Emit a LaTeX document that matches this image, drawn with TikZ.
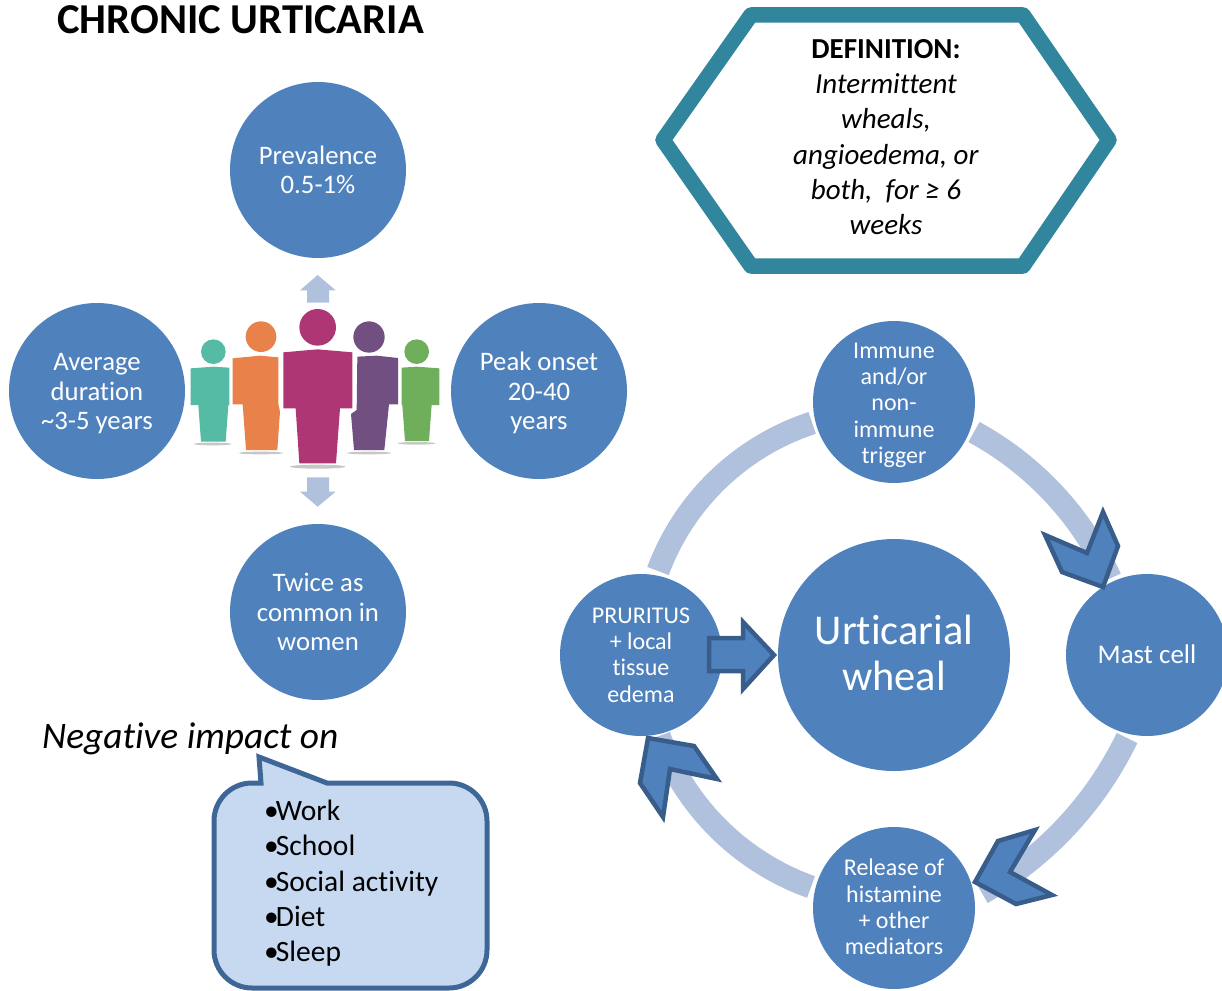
\documentclass[tikz,border=0pt]{standalone}
\usepackage{fontspec}
\setmainfont[Ligatures=CommonOff]{Carlito}
\definecolor{blueA}{HTML}{4F81BD}
\definecolor{blueE}{HTML}{385D8A}
\definecolor{lightA}{HTML}{B0C1DD}
\definecolor{tealH}{HTML}{31859C}
\definecolor{callF}{HTML}{C6D9F1}
\definecolor{callE}{HTML}{3E6696}
\definecolor{pTeal}{HTML}{56BBA5}
\definecolor{pOrange}{HTML}{E9824A}
\definecolor{pMag}{HTML}{AE3674}
\definecolor{pPur}{HTML}{714F80}
\definecolor{pGreen}{HTML}{6FAF5B}
\tikzset{
 bigc/.style={circle,fill=blueA,text=white,minimum size=176pt,inner sep=0pt,align=center,font=\fontsize{26.7}{29.5}\selectfont},
 smallc/.style={circle,fill=blueA,text=white,minimum size=162pt,inner sep=0pt,align=center,font=\fontsize{24}{26.3}\selectfont},
 ring/.style={lightA,line width=23pt},
 chev/.style={fill=blueA,draw=blueE,line width=4.5pt,miter limit=10},
 lightarrow/.style={fill=lightA,draw=none},
 shadowp/.style={fill=black!22,draw=none},
}
\newcommand{\blt}{•\kern-3pt}
\begin{document}
\begin{tikzpicture}[x=1pt,y=-1pt]
\useasboundingbox (0,0) rectangle (1222,990);
\node[anchor=west,font=\fontsize{42.6}{44}\bfseries\selectfont,inner sep=0pt] (title) at (57,20) {CHRONIC URTICARIA};

% definition hexagon
\draw[tealH,line width=15.5pt,line join=round,fill=white] (663,140) -- (751,15) -- (1023,15) -- (1109,140) -- (1023,266) -- (751,266) -- cycle;
\node[align=center,inner sep=0pt,font=\fontsize{29}{35.2}\selectfont] (def) at (886,137) {\textbf{DEFINITION:}\\\textit{Intermittent}\\\textit{wheals,}\\\textit{angioedema, or}\\\textit{both,\ \ for ≥ 6}\\\textit{weeks}};

% left circles
\node[bigc] (prev) at (318,170) {Prevalence\\0.5-1\%};
\node[bigc] (dur) at (97,391) {\rule{0pt}{22.5pt}Average\\duration\\\textasciitilde3-5 years};
\node[bigc] (peak) at (539,391) {\rule{0pt}{22.5pt}Peak onset\\20-40\\years};
\node[bigc] (women) at (318,612) {Twice as\\common in\\women};

% people
\begin{scope}[shift={(170,260)},x=0.33333pt,y=-0.33333pt]
\fill[lightarrow] (443,45) -- (497,91) -- (477,91) -- (477,128) -- (411,128) -- (411,91) -- (390,91) -- cycle;
\fill[lightarrow] (443,740) -- (497,695) -- (477,695) -- (477,652) -- (411,652) -- (411,695) -- (390,695) -- cycle;
\fill[shadowp] (128,552) ellipse[x radius=57,y radius=4];
\fill[shadowp] (273,579) ellipse[x radius=67,y radius=4];
\fill[shadowp] (443,620) ellipse[x radius=83,y radius=6];
\fill[shadowp] (597,579) ellipse[x radius=67,y radius=4];
\fill[shadowp] (740,550) ellipse[x radius=57,y radius=4];
\fill[pTeal] (130,275) circle[radius=37];
\fill[pTeal] (62,325) -- (130,320) -- (178,323) -- (178,435) -- (175,435) -- (167,545) -- (93,545) -- (85,435) -- (62,435) -- cycle;
\fill[pOrange] (273,230) circle[radius=46];
\fill[pOrange] (188,295) -- (270,287) -- (325,292) -- (325,432) -- (330,455) -- (322,570) -- (228,570) -- (218,433) -- (188,433) -- cycle;
\fill[pMag] (443,202) circle[radius=55];
\fill[pMag] (340,277) -- (443,268) -- (547,277) -- (547,445) -- (510,445) -- (498,610) -- (388,610) -- (377,445) -- (340,445) -- cycle;
\fill[pPur] (597,231) circle[radius=47];
\fill[pPur] (562,290) -- (620,287) -- (684,294) -- (684,433) -- (657,433) -- (643,570) -- (552,570) -- (543,462) -- (560,450) -- cycle;
\fill[pGreen] (740,275) circle[radius=37];
\fill[pGreen] (695,323) -- (740,320) -- (808,325) -- (808,435) -- (785,435) -- (777,543) -- (705,543) -- (697,435) -- (695,435) -- cycle;
\end{scope}

% ring segments
\draw[ring] (974,432) arc[start angle=61.4,end angle=24.5,radius=316pt];
\draw[ring] (1127,738) arc[start angle=-25.8,end angle=-60.4,radius=357pt];
\draw[ring] (811,887) arc[start angle=-109.7,end angle=-160,radius=252pt];
\draw[ring] (658,571) arc[start angle=159.6,end angle=108.1,radius=246pt];

% cycle
\node[circle,fill=blueA,text=white,minimum size=232pt,inner sep=0pt,align=center,font=\fontsize{42.4}{46}\selectfont] (wheal) at (894,655) {Urticarial\\wheal\rule[-4pt]{0pt}{1pt}};
\node[smallc] (immune) at (894,402) {\rule{0pt}{22pt}Immune\\and/or\\non-\\immune\\trigger};
\node[smallc,font=\fontsize{27}{30}\selectfont] (mast) at (1147,655) {Mast cell\rule[-2pt]{0pt}{1pt}};
\node[smallc] (release) at (894,908) {Release of\\histamine\\+ other\\mediators\rule[-2pt]{0pt}{1pt}};
\node[smallc] (prur) at (641,655) {PRURITUS\\+ local\\tissue\\edema};

\draw[chev] (1045,535) -- (1087,553) -- (1103,512) -- (1118,546) -- (1103,587) -- (1062,572) -- cycle;
\draw[chev] (1035,830) -- (1010,872) -- (1052,895) -- (1016,904) -- (975,882) -- (998,841) -- cycle;
\draw[chev] (648,738) -- (694,746) -- (717,779) -- (670,769) -- (663,817) -- (640,783) -- cycle;
\draw[chev] (709,638) -- (743,638) -- (743,622) -- (774,655) -- (743,689) -- (743,671) -- (709,671) -- cycle;

% negative impact
\node[anchor=west,inner sep=0pt,font=\fontsize{37.4}{40}\itshape\selectfont] (neg) at (42,739) {Negative impact on};
\draw[fill=callF,draw=callE,line width=5pt,line join=miter]
 (261,783) -- (259,757) -- (327,783) -- (449,783) arc[start angle=90,end angle=0,radius=38pt] -- (487,950) arc[start angle=0,end angle=-90,radius=38pt] -- (252,988) arc[start angle=-90,end angle=-180,radius=38pt] -- (214,821) arc[start angle=180,end angle=90,radius=38pt] -- cycle;
\node[anchor=north west,inner sep=0pt,align=left,font=\fontsize{29.5}{35.3}\selectfont] (list) at (264,800) {\blt Work\\\blt School\\\blt Social activity\\\blt Diet\\\blt Sleep};
\end{tikzpicture}
\end{document}
